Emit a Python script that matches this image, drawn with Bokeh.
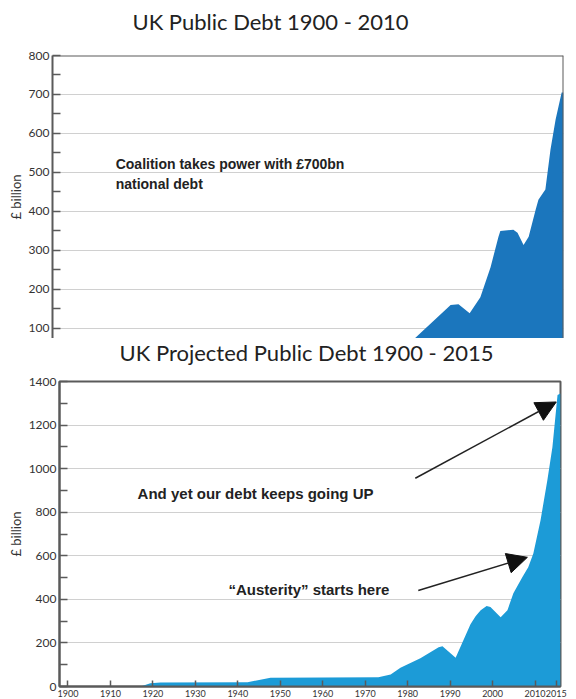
from bokeh.plotting import figure
from bokeh.models import (Range1d, SingleIntervalTicker, FixedTicker, Label, Arrow,
                          NormalHead, Span, ColumnDataSource)
from bokeh.layouts import column
from bokeh.embed import file_html
from bokeh.resources import INLINE

# ---------------- data ----------------
top_years = [1900, 1917, 1920, 1942, 1948, 1973, 1977.5, 1985.7, 1987.4, 1989.8,
             1992.1, 1994.3, 1996.0, 1996.4, 1999.2, 2000.1, 2001.4, 2002.5,
             2004.0, 2004.6, 2006.1, 2007.2, 2008.3, 2009.6, 2010.0]
top_debt = [0, 0, 18, 20, 40, 42, 69, 160, 162, 139,
            180, 257, 335, 350, 353, 345, 314, 335,
            404, 430, 456, 559, 636, 705, 705]

bot_years = [1898, 1917.1, 1919.4, 1921.8, 1942.3, 1947.7, 1973.1, 1976.0, 1978.3,
             1983.0, 1987.3, 1988.2, 1991.3, 1994.8, 1996.0, 1997.2, 1998.6, 1999.5,
             2001.9, 2003.5, 2004.9, 2007.0, 2008.4, 2009.6, 2011.3, 2012.9, 2014.1,
             2015.3, 2016.0]
bot_debt = [0, 0, 15, 18, 20, 40, 42, 55, 86,
            130, 180, 185, 132, 286, 322, 350, 370, 365,
            318, 350, 428, 501, 547, 611, 763, 947, 1099,
            1338, 1345]

top_title = "UK Public Debt 1900 - 2010"
bot_title = "UK Projected Public Debt 1900 - 2015"
top_yticks_interval = 100
bot_yticks_interval = 200
bot_xticks = [1900, 1910, 1920, 1930, 1940, 1950, 1960, 1970, 1980, 1990, 2000, 2010, 2015]

TICK_FONT = "Lato"
TEXT_FONT = "Liberation Sans"
AXIS_COL = "#5a5a5a"
GRID_COL = "#d0d0d0"


def title_fig(text, height, cx, cy):
    f = figure(width=576, height=height, x_range=Range1d(0, 576), y_range=Range1d(0, height),
               output_backend="svg", toolbar_location=None, frame_align=False,
               x_axis_location=None, y_axis_location=None,
               min_border=0, min_border_left=0, min_border_right=0,
               min_border_top=0, min_border_bottom=0)
    f.outline_line_color = None
    f.xgrid.grid_line_color = None
    f.ygrid.grid_line_color = None
    f.add_layout(Label(x=cx, y=height - cy, text=text, text_align="center",
                       text_baseline="middle", text_font=TICK_FONT,
                       text_font_size="22px", text_color="#222222"))
    return f


def style_y(p, interval):
    ax = p.yaxis[0]
    ax.ticker = SingleIntervalTicker(interval=interval, num_minor_ticks=2)
    ax.major_tick_in = 0
    ax.major_tick_out = 0
    ax.minor_tick_in = 8
    ax.minor_tick_out = 0
    ax.minor_tick_line_color = AXIS_COL
    ax.minor_tick_line_width = 1.5
    ax.axis_line_color = AXIS_COL
    ax.axis_line_width = 2
    ax.major_label_text_font = TICK_FONT
    ax.major_label_text_font_size = "12px"
    ax.major_label_text_color = "#333333"
    ax.major_label_standoff = 3
    ax.axis_label = "£ billion"
    ax.axis_label_text_font = TICK_FONT
    ax.axis_label_text_font_size = "13px"
    ax.axis_label_text_font_style = "normal"
    ax.axis_label_text_color = "#333333"
    ax.axis_label_standoff = 2
    p.ygrid.grid_line_color = GRID_COL
    p.ygrid.grid_line_width = 1
    p.xgrid.grid_line_color = None


# ---------------- top chart ----------------
t1 = title_fig(top_title, 40, 270, 21)

top = figure(width=576, height=298, x_range=Range1d(1900, 2010), y_range=Range1d(74, 800),
             output_backend="svg", toolbar_location=None, x_axis_location=None,
             frame_align=False,
             min_border_left=52, min_border_right=13, min_border_top=15, min_border_bottom=0)
top.outline_line_color = None
style_y(top, top_yticks_interval)

src_top = ColumnDataSource(dict(year=top_years, debt=top_debt))
top.varea(x="year", y1=0, y2="debt", source=src_top, fill_color="#1b76bd")

top.add_layout(Span(location=800, dimension="width", line_color=AXIS_COL, line_width=2))
top.add_layout(Span(location=2010, dimension="height", line_color=AXIS_COL, line_width=2))

top.add_layout(Label(x=1913.6, y=522, text="Coalition takes power with £700bn",
                     text_font=TEXT_FONT, text_font_style="bold", text_font_size="14px",
                     text_baseline="middle", text_color="#222222"))
top.add_layout(Label(x=1913.6, y=470, text="national debt",
                     text_font=TEXT_FONT, text_font_style="bold", text_font_size="14px",
                     text_baseline="middle", text_color="#222222"))

# ---------------- bottom chart ----------------
t2 = title_fig(bot_title, 30, 306, 14)

bot = figure(width=576, height=331, x_range=Range1d(1898, 2016), y_range=Range1d(0, 1400),
             output_backend="svg", toolbar_location=None, frame_align=False,
             min_border_left=59, min_border_right=16, min_border_top=13, min_border_bottom=13)
bot.outline_line_color = AXIS_COL
bot.outline_line_width = 2
style_y(bot, bot_yticks_interval)

xa = bot.xaxis[0]
xa.ticker = FixedTicker(ticks=bot_xticks)
xa.major_tick_in = 6
xa.major_tick_out = 0
xa.minor_tick_in = 0
xa.minor_tick_out = 0
xa.major_tick_line_color = AXIS_COL
xa.major_tick_line_width = 1.5
xa.axis_line_color = AXIS_COL
xa.axis_line_width = 2
xa.major_label_text_font = TICK_FONT
xa.major_label_text_font_size = "9px"
xa.major_label_text_color = "#333333"
xa.major_label_standoff = 3

src_bot = ColumnDataSource(dict(year=bot_years, debt=bot_debt))
bot.varea(x="year", y1=0, y2="debt", source=src_bot, fill_color="#1c9bd7")

bot.add_layout(Label(x=1916.4, y=887, text="And yet our debt keeps going UP",
                     text_font=TEXT_FONT, text_font_style="bold", text_font_size="15px",
                     text_baseline="middle", text_color="#222222"))
bot.add_layout(Label(x=1937.8, y=446, text="\u201cAusterity\u201d starts here",
                     text_font=TEXT_FONT, text_font_style="bold", text_font_size="15px",
                     text_baseline="middle", text_color="#222222"))

bot.add_layout(Arrow(end=NormalHead(size=20, fill_color="#111111", line_color="#111111"),
                     x_start=1981.8, y_start=956, x_end=2015.0, y_end=1306,
                     line_color="#222222", line_width=1.5))
bot.add_layout(Arrow(end=NormalHead(size=20, fill_color="#111111", line_color="#111111"),
                     x_start=1982.5, y_start=441, x_end=2008.2, y_end=593,
                     line_color="#222222", line_width=1.5))

layout = column(t1, top, t2, bot, spacing=0)
open("out.html", "w").write(file_html(layout, INLINE))
